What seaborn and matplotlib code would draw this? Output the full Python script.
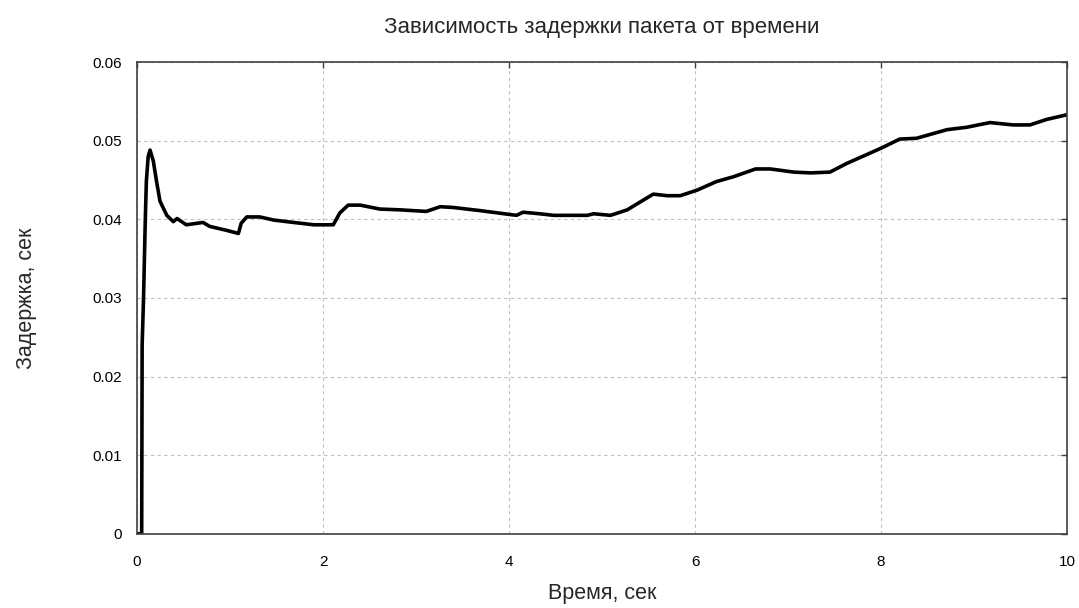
import numpy as np
import pandas as pd
import matplotlib
matplotlib.use("Agg")
import matplotlib.pyplot as plt
import seaborn as sns

# values
time_s = [0.0, 0.05, 0.055, 0.07, 0.085, 0.09, 0.10, 0.12, 0.14, 0.175, 0.21, 0.247,
          0.32, 0.39, 0.43, 0.53, 0.71, 0.78, 0.96, 1.09, 1.12, 1.18, 1.32, 1.47,
          1.61, 1.90, 2.11, 2.18, 2.27, 2.40, 2.61, 2.83, 3.11, 3.26, 3.40, 3.69,
          4.08, 4.15, 4.33, 4.48, 4.84, 4.91, 5.09, 5.27, 5.41, 5.55, 5.70, 5.84,
          6.02, 6.23, 6.41, 6.65, 6.81, 7.06, 7.24, 7.45, 7.63, 7.84, 8.01, 8.20,
          8.38, 8.56, 8.71, 8.92, 9.17, 9.42, 9.60, 9.78, 10.0]
delay_s = [0.0, 0.0, 0.024, 0.030, 0.038, 0.0404, 0.0448, 0.0480, 0.0488, 0.0474, 0.0448, 0.0423,
           0.0405, 0.0397, 0.0401, 0.0393, 0.0396, 0.0391, 0.0386, 0.0382, 0.0395, 0.0403, 0.0403, 0.0399,
           0.0397, 0.0393, 0.0393, 0.0408, 0.0418, 0.0418, 0.0413, 0.0412, 0.0410, 0.0416, 0.0415, 0.0411,
           0.0405, 0.0409, 0.0407, 0.0405, 0.0405, 0.0407, 0.0405, 0.0412, 0.0422, 0.0432, 0.0430, 0.0430,
           0.0437, 0.0448, 0.0454, 0.0464, 0.0464, 0.0460, 0.0459, 0.0460, 0.0471, 0.0482, 0.0491, 0.0502,
           0.0503, 0.0509, 0.0514, 0.0517, 0.0523, 0.0520, 0.0520, 0.0527, 0.0533]

x_ticks = [0, 2, 4, 6, 8, 10]
y_ticks = [0, 0.01, 0.02, 0.03, 0.04, 0.05, 0.06]
y_labels = ["0", "0.01", "0.02", "0.03", "0.04", "0.05", "0.06"]

df = pd.DataFrame({"t": time_s, "d": delay_s})

sns.set_style("white")
plt.rcParams["font.family"] = ["Liberation Sans", "DejaVu Sans"]

fig = plt.figure(figsize=(10.79, 6.08), dpi=100)
ax = fig.add_axes([0.127, 0.122, 0.862, 0.776])

sns.lineplot(data=df, x="t", y="d", color="black", linewidth=2.6, ax=ax)

ax.set_xlim(0, 10)
ax.set_ylim(0, 0.06)
ax.set_xticks(x_ticks)
ax.set_xticklabels([str(v) for v in x_ticks])
ax.set_yticks(y_ticks)
ax.set_yticklabels(y_labels)
ax.grid(True, linestyle=(0, (3, 3)), color="#c0c0c0", linewidth=0.8)
ax.tick_params(direction="in", length=4, width=1, colors="#404040",
               labelcolor="black", labelsize=11, top=True, right=True)
ax.tick_params(axis="x", pad=15)
ax.tick_params(axis="y", pad=11)
for sp in ax.spines.values():
    sp.set_color("#404040")
    sp.set_linewidth(1.2)

ax.set_xlabel("Время, сек", fontsize=15.5, labelpad=10)
ax.set_ylabel("Задержка, сек", fontsize=15.5, labelpad=40)
ax.set_title("Зависимость задержки пакета от времени", fontsize=16, pad=21)

fig.savefig("out.png", dpi=100)
